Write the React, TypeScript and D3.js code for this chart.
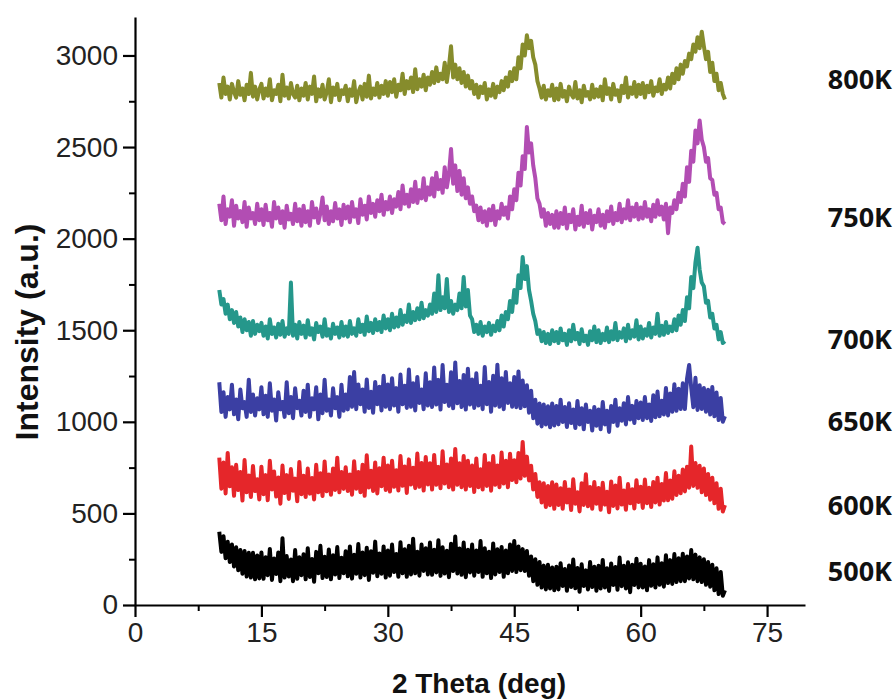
import * as d3 from "d3";
import { useEffect, useRef } from "react";

// XRD scans, 2θ from 10° to 70°, one reading every 0.25°
const thetaStart = 10;
const thetaStep = 0.25;

const s800K = [
  2850, 2770, 2880, 2790, 2830, 2760, 2845, 2800, 2770, 2860, 2785, 2820, 2755, 2840, 2790, 2905, 2775, 2830, 2760, 2815,
  2845, 2765, 2820, 2780, 2870, 2755, 2810, 2790, 2840, 2750, 2895, 2780, 2825, 2765, 2850, 2790, 2770, 2835, 2755, 2820,
  2780, 2850, 2760, 2830, 2790, 2885, 2750, 2815, 2775, 2840, 2760, 2800, 2870, 2745, 2825, 2785, 2845, 2755, 2810, 2790,
  2835, 2750, 2815, 2780, 2860, 2745, 2800, 2830, 2760, 2845, 2775, 2890, 2765, 2820, 2785, 2850, 2770, 2835, 2790, 2860,
  2780, 2855, 2800, 2870, 2775, 2840, 2810, 2900, 2790, 2860, 2820, 2880, 2800, 2925, 2815, 2870, 2830, 2895, 2810, 2880,
  2840, 2910, 2850, 2935, 2860, 2900, 2870, 2960, 2855, 2940, 3050, 2880, 2950, 2870, 2930, 2850, 2910, 2830, 2890, 2820,
  2860, 2790, 2840, 2770, 2830, 2795, 2850, 2760, 2815, 2780, 2845, 2770, 2830, 2800, 2860, 2810, 2880, 2830, 2910, 2860,
  2930, 2870, 2990, 2930, 3060, 3000, 3110, 3040, 3080, 2990, 2950, 2860, 2820, 2770, 2835, 2760, 2810, 2780, 2840, 2755,
  2820, 2760, 2845, 2775, 2805, 2750, 2830, 2790, 2770, 2855, 2765, 2810, 2745, 2835, 2780, 2800, 2760, 2840, 2770, 2815,
  2775, 2830, 2755, 2870, 2790, 2820, 2760, 2845, 2785, 2810, 2750, 2835, 2795, 2880, 2770, 2825, 2790, 2855, 2775, 2840,
  2790, 2850, 2770, 2835, 2800, 2860, 2780, 2825, 2805, 2870, 2790, 2840, 2815, 2880, 2820, 2900, 2850, 2930, 2870, 2950,
  2900, 2970, 2940, 3010, 2980, 3060, 3020, 3100, 3040, 3130, 3050, 2980, 3020, 2910, 2960, 2860, 2900, 2810, 2850, 2790,
  2760,
];

const s750K = [
  2190, 2100, 2230, 2080, 2160, 2120, 2210, 2070, 2180, 2110, 2150, 2090, 2200, 2065, 2170, 2110, 2140, 2080, 2190, 2100,
  2160, 2075, 2185, 2100, 2140, 2065, 2200, 2110, 2170, 2085, 2150, 2060, 2180, 2105, 2135, 2080, 2190, 2095, 2160, 2070,
  2180, 2090, 2150, 2070, 2200, 2115, 2165, 2085, 2140, 2225, 2100, 2175, 2080, 2150, 2095, 2195, 2110, 2160, 2075, 2185,
  2110, 2175, 2090, 2200, 2120, 2160, 2085, 2215, 2130, 2180, 2105, 2230, 2140, 2190, 2120, 2210, 2150, 2240, 2130, 2200,
  2160, 2230, 2140, 2215, 2175, 2255, 2160, 2290, 2190, 2240, 2175, 2270, 2200, 2310, 2195, 2265, 2220, 2330, 2210, 2280,
  2240, 2330, 2230, 2360, 2270, 2320, 2250, 2390, 2280, 2350, 2490, 2300, 2400, 2260, 2370, 2240, 2330, 2220, 2280, 2190,
  2230, 2150, 2180, 2100, 2170, 2090, 2150, 2070, 2160, 2100, 2180, 2075, 2150, 2110, 2190, 2130, 2170, 2110, 2230, 2160,
  2270, 2210, 2360, 2290, 2450, 2380, 2610, 2470, 2520, 2400, 2330, 2220, 2190, 2120, 2160, 2070, 2140, 2080, 2130, 2060,
  2150, 2060, 2140, 2080, 2170, 2055, 2130, 2090, 2160, 2050, 2120, 2075, 2180, 2065, 2140, 2085, 2155, 2050, 2125, 2090,
  2160, 2070, 2130, 2060, 2150, 2095, 2175, 2080, 2140, 2100, 2190, 2090, 2160, 2110, 2210, 2100, 2170, 2120, 2190, 2105,
  2170, 2110, 2200, 2120, 2160, 2095, 2185, 2120, 2210, 2130, 2175, 2105, 2190, 2030, 2170, 2140, 2210, 2160, 2250, 2200,
  2300, 2230, 2390, 2310, 2480, 2420, 2590, 2520, 2645, 2540, 2500, 2420, 2440, 2330, 2320, 2240, 2250, 2160, 2170, 2090,
  2080,
];

const s700K = [
  1720, 1640, 1670, 1590, 1640, 1560, 1610, 1540, 1600, 1520, 1570, 1490, 1560, 1500, 1545, 1470, 1550, 1480, 1530, 1495,
  1540, 1470, 1520, 1455, 1560, 1480, 1515, 1460, 1535, 1475, 1550, 1465, 1510, 1480, 1760, 1470, 1530, 1455, 1545, 1480,
  1525, 1460, 1555, 1475, 1510, 1450, 1540, 1490, 1520, 1465, 1560, 1470, 1505, 1455, 1535, 1480, 1515, 1460, 1545, 1470,
  1520, 1465, 1550, 1480, 1510, 1470, 1560, 1490, 1530, 1475, 1575, 1495, 1540, 1485, 1560, 1500, 1545, 1490, 1580, 1510,
  1560, 1500, 1590, 1515, 1570, 1520, 1610, 1530, 1580, 1545, 1640, 1540, 1600, 1555, 1620, 1560, 1650, 1565, 1610, 1580,
  1640, 1590, 1700, 1600, 1800, 1610, 1680, 1620, 1780, 1600, 1660, 1590, 1640, 1610, 1700, 1620, 1790, 1630, 1720, 1580,
  1560, 1490, 1530, 1480, 1545, 1470, 1520, 1490, 1540, 1475, 1525, 1495, 1550, 1500, 1580, 1520, 1600, 1560, 1660, 1600,
  1720, 1650, 1800, 1730, 1900, 1780, 1850, 1720, 1660, 1590, 1550, 1480, 1500, 1440, 1490, 1430, 1480, 1425, 1500, 1440,
  1490, 1430, 1510, 1445, 1480, 1420, 1500, 1440, 1530, 1450, 1485, 1425, 1505, 1440, 1470, 1420, 1495, 1445, 1520, 1435,
  1500, 1430, 1480, 1445, 1515, 1435, 1495, 1450, 1540, 1445, 1490, 1460, 1510, 1440, 1530, 1455, 1500, 1465, 1555, 1450,
  1520, 1455, 1505, 1470, 1540, 1460, 1515, 1480, 1590, 1470, 1525, 1475, 1545, 1485, 1520, 1495, 1560, 1500, 1580, 1530,
  1610, 1550, 1680, 1620, 1790, 1730, 1870, 1950, 1830, 1760, 1740, 1650, 1660, 1570, 1590, 1510, 1530, 1450, 1490, 1430,
  1440,
];

const s650K = [
  1216, 1054, 1162, 1027, 1135, 1068, 1203, 1041, 1122, 1014, 1176, 1074, 1108, 1027, 1230, 1054, 1149, 1034, 1129, 1068,
  1189, 1041, 1142, 1027, 1210, 1061, 1122, 1007, 1162, 1068, 1108, 1027, 1216, 1047, 1135, 1020, 1183, 1074, 1115, 1034,
  1169, 1054, 1203, 1027, 1129, 1068, 1189, 1014, 1149, 1047, 1230, 1061, 1122, 1034, 1183, 1074, 1135, 1027, 1203, 1061,
  1149, 1068, 1245, 1082, 1272, 1069, 1204, 1096, 1177, 1055, 1231, 1076, 1164, 1049, 1218, 1096, 1191, 1062, 1251, 1082,
  1204, 1069, 1238, 1089, 1184, 1055, 1258, 1096, 1197, 1076, 1285, 1082, 1211, 1062, 1245, 1103, 1177, 1069, 1265, 1089,
  1216, 1081, 1297, 1094, 1229, 1067, 1310, 1108, 1202, 1087, 1270, 1074, 1324, 1101, 1223, 1081, 1256, 1067, 1290, 1094,
  1231, 1076, 1265, 1089, 1197, 1069, 1299, 1096, 1218, 1055, 1251, 1089, 1312, 1082, 1238, 1069, 1272, 1103, 1211, 1082,
  1245, 1080, 1275, 1075, 1225, 1085, 1200, 1050, 1170, 1020, 1120, 990, 1100, 975, 1095, 985, 1085, 970, 1100, 980,
  1087, 986, 1121, 999, 1081, 972, 1101, 993, 1067, 966, 1114, 986, 1074, 959, 1094, 999, 1060, 952, 1081, 979,
  1067, 959, 1108, 986, 1060, 945, 1087, 999, 1121, 979, 1074, 1006, 1101, 986, 1135, 1013, 1087, 993, 1114, 1020,
  1105, 1010, 1135, 1020, 1095, 1005, 1145, 1025, 1165, 1030, 1115, 1040, 1185, 1035, 1155, 1055, 1205, 1060, 1180, 1070,
  1210, 1070, 1235, 1310, 1185, 1080, 1240, 1065, 1200, 1070, 1185, 1055, 1175, 1040, 1190, 1030, 1160, 1010, 1130, 1000,
  1030,
];

const s600K = [
  804, 635, 778, 609, 830, 648, 752, 596, 765, 628, 726, 570, 791, 615, 707, 589, 759, 622, 687, 576,
  755, 605, 709, 572, 787, 631, 729, 592, 696, 553, 761, 611, 709, 579, 742, 624, 690, 566, 781, 605,
  706, 589, 745, 608, 693, 576, 765, 615, 719, 595, 784, 621, 713, 602, 745, 628, 804, 615, 726, 634,
  752, 622, 713, 602, 785, 635, 726, 615, 765, 596, 817, 641, 733, 622, 778, 609, 746, 648, 804, 628,
  762, 619, 788, 645, 736, 625, 814, 651, 756, 612, 795, 658, 749, 638, 827, 645, 775, 625, 808, 658,
  774, 630, 819, 656, 754, 637, 839, 663, 767, 643, 800, 630, 852, 656, 774, 643, 813, 630, 787, 650,
  761, 617, 800, 643, 741, 630, 819, 650, 774, 624, 813, 656, 761, 643, 832, 663, 787, 643, 826, 682,
  790, 670, 830, 690, 890, 705, 810, 680, 760, 630, 715, 590, 670, 560, 665, 535, 650, 545, 670, 525,
  658, 546, 637, 525, 672, 560, 630, 518, 686, 553, 616, 511, 665, 546, 714, 539, 644, 525, 672, 553,
  639, 520, 667, 548, 618, 506, 674, 541, 653, 527, 695, 548, 625, 520, 660, 555, 632, 527, 681, 562,
  645, 530, 685, 555, 640, 535, 672, 560, 695, 548, 660, 570, 720, 572, 680, 580, 730, 600, 705, 610,
  740, 620, 755, 640, 865, 650, 775, 640, 760, 615, 745, 600, 715, 575, 695, 555, 665, 525, 635, 510,
  545,
];

const s500K = [
  400, 290, 375, 255, 345, 235, 330, 210, 315, 190, 300, 170, 295, 155, 285, 150, 285, 140, 270, 145,
  287, 143, 261, 163, 306, 137, 254, 169, 287, 130, 365, 150, 267, 156, 248, 130, 300, 143, 261, 163,
  277, 140, 310, 153, 251, 127, 290, 173, 323, 147, 264, 153, 303, 140, 271, 166, 316, 147, 258, 173,
  294, 157, 320, 144, 274, 170, 333, 150, 287, 163, 313, 137, 294, 176, 346, 157, 281, 170, 320, 150,
  297, 160, 330, 180, 278, 154, 343, 173, 304, 154, 323, 167, 362, 173, 291, 160, 330, 186, 310, 167,
  341, 165, 302, 178, 354, 159, 315, 172, 296, 152, 335, 185, 374, 172, 309, 165, 341, 152, 302, 178,
  330, 160, 297, 180, 349, 154, 310, 173, 291, 147, 336, 167, 304, 180, 317, 154, 297, 173, 330, 186,
  350, 180, 320, 190, 305, 185, 295, 160, 265, 130, 250, 110, 235, 95, 215, 85, 220, 90, 205, 80,
  209, 85, 228, 104, 196, 78, 215, 98, 248, 91, 202, 72, 222, 104, 189, 85, 235, 98, 209, 78,
  214, 90, 246, 96, 201, 77, 227, 109, 207, 83, 259, 103, 214, 90, 233, 70, 220, 109, 253, 96,
  225, 95, 210, 80, 245, 105, 222, 95, 260, 110, 228, 100, 272, 120, 245, 115, 278, 125, 255, 130,
  280, 130, 265, 145, 300, 140, 275, 130, 260, 125, 250, 110, 235, 100, 220, 80, 200, 60, 180, 50,
  80,
];

const seriesNames = ["800K", "750K", "700K", "650K", "600K", "500K"];
const seriesValues = [s800K, s750K, s700K, s650K, s600K, s500K];
const seriesColors = ["#868c2c", "#b24db3", "#25978b", "#3b3fa3", "#e5262a", "#000000"];
// where the temperature label sits, in intensity units
const labelLevels = [2870, 2115, 1450, 1000, 545, 180];

const xMajorTicks = [0, 15, 30, 45, 60, 75];
const xMinorTicks = [7.5, 22.5, 37.5, 52.5, 67.5];
const yMajorTicks = [0, 500, 1000, 1500, 2000, 2500, 3000];
const yMinorTicks = [250, 750, 1250, 1750, 2250, 2750];

export default function App() {
  const ref = useRef<SVGSVGElement>(null);

  useEffect(() => {
    const svg = d3.select(ref.current);
    svg.selectAll("*").remove();

    const width = 894;
    const height = 700;
    const margin = { top: 17, right: 89, bottom: 95, left: 135 };

    const x = d3.scaleLinear()
      .domain([0, 79.5])
      .range([margin.left, width - margin.right]);

    const y = d3.scaleLinear()
      .domain([0, 3210])
      .range([height - margin.bottom, margin.top]);

    const line = d3.line<number>()
      .x((d, i) => x(thetaStart + i * thetaStep))
      .y(d => y(d));

    // traces (thick strokes so the noisy scan reads as a solid band)
    svg.append("g")
      .selectAll("path")
      .data(seriesValues)
      .join("path")
      .attr("d", d => line(d))
      .attr("fill", "none")
      .attr("stroke", (d, i) => seriesColors[i])
      .attr("stroke-width", 4)
      .attr("stroke-linejoin", "round");

    const font = "'Liberation Sans', Arial, sans-serif";

    // x axis
    const gx = svg.append("g")
      .attr("transform", `translate(0,${height - margin.bottom})`)
      .call(d3.axisBottom(x).tickValues(xMajorTicks).tickSize(12).tickSizeOuter(0).tickPadding(5));
    gx.select(".domain").attr("stroke-width", 2.2);
    gx.selectAll(".tick line").attr("stroke-width", 2.2);
    gx.selectAll("text").attr("font-family", font).attr("font-size", 28).attr("fill", "#222");

    svg.append("g")
      .attr("transform", `translate(0,${height - margin.bottom})`)
      .call(d3.axisBottom(x).tickValues(xMinorTicks).tickSize(6).tickFormat(() => ""))
      .call(g => g.select(".domain").remove())
      .selectAll(".tick line").attr("stroke-width", 2);

    // y axis
    const gy = svg.append("g")
      .attr("transform", `translate(${margin.left},0)`)
      .call(d3.axisLeft(y).tickValues(yMajorTicks).tickFormat(d3.format("d")).tickSize(12).tickSizeOuter(0).tickPadding(5));
    gy.select(".domain").attr("stroke-width", 2.2);
    gy.selectAll(".tick line").attr("stroke-width", 2.2);
    gy.selectAll("text").attr("font-family", font).attr("font-size", 28).attr("fill", "#222");

    svg.append("g")
      .attr("transform", `translate(${margin.left},0)`)
      .call(d3.axisLeft(y).tickValues(yMinorTicks).tickSize(6).tickFormat(() => ""))
      .call(g => g.select(".domain").remove())
      .selectAll(".tick line").attr("stroke-width", 2);

    // axis titles
    svg.append("text")
      .attr("x", 479)
      .attr("y", 693)
      .attr("text-anchor", "middle")
      .attr("font-family", font)
      .attr("font-weight", "bold")
      .attr("font-size", 28)
      .attr("fill", "#111")
      .text("2 Theta (deg)");

    svg.append("text")
      .attr("transform", "translate(38,332) rotate(-90)")
      .attr("text-anchor", "middle")
      .attr("font-family", font)
      .attr("font-weight", "bold")
      .attr("font-size", 32)
      .attr("fill", "#111")
      .text("Intensity (a.u.)");

    // temperature labels
    svg.append("g")
      .selectAll("text")
      .data(seriesNames)
      .join("text")
      .attr("x", 892)
      .attr("y", (d, i) => y(labelLevels[i]))
      .attr("dy", "0.35em")
      .attr("text-anchor", "end")
      .attr("font-family", "'Open Sans', 'Noto Sans', sans-serif")
      .attr("font-weight", "bold")
      .attr("font-size", 27)
      .attr("fill", "#111")
      .text(d => d);
  }, []);

  return (
    <svg
      ref={ref}
      width={894}
      height={700}
      style={{ position: "absolute", left: 0, top: 0, background: "#fff" }}
    />
  );
}
